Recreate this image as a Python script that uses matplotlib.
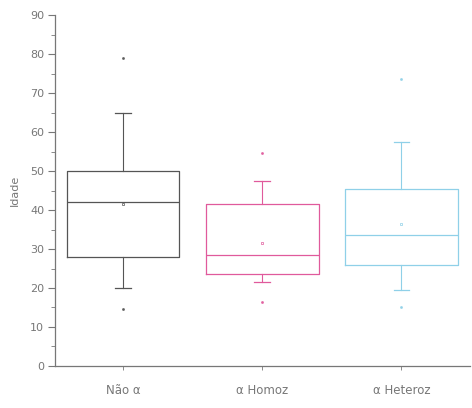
import matplotlib
matplotlib.use("Agg")
from matplotlib import pyplot as plt

# Dados (Idade por grupo)
grupos = ["Não α", "α Homoz", "α Heteroz"]
q1 = [28, 23.5, 26]
mediana = [42, 28.5, 33.5]
q3 = [50, 41.5, 45.5]
whislo = [20, 21.5, 19.5]
whishi = [65, 47.5, 57.5]
media = [41.5, 31.5, 36.5]
outliers = [[79, 14.5], [54.5, 16.5], [73.5, 15]]
cores = ["#555555", "#e05a9c", "#8fd0e8"]

stats = []
for i, g in enumerate(grupos):
    stats.append({
        "label": g,
        "q1": q1[i], "med": mediana[i], "q3": q3[i],
        "whislo": whislo[i], "whishi": whishi[i],
        "mean": media[i], "fliers": outliers[i],
    })

fig = plt.figure(figsize=(4.72, 4.08), dpi=100)
ax = fig.add_axes([0.117, 0.103, 0.878, 0.86])

for i, s in enumerate(stats):
    c = cores[i]
    ax.bxp([s], positions=[i + 1], widths=0.81, showmeans=True, showfliers=True,
           boxprops=dict(color=c, linewidth=0.9),
           medianprops=dict(color=c, linewidth=0.9),
           whiskerprops=dict(color=c, linewidth=0.8),
           capprops=dict(color=c, linewidth=0.9),
           capwidths=0.11,
           meanprops=dict(marker="s", markersize=2.0, markerfacecolor="none",
                          markeredgecolor=c, markeredgewidth=0.5),
           flierprops=dict(marker=".", markersize=2.2, markerfacecolor=c,
                           markeredgecolor=c, alpha=0.8))

ax.set_xlim(0.514, 3.49)
ax.set_ylim(0, 90)
ax.set_yticks(range(0, 91, 10))
ax.set_yticks(range(5, 90, 5), minor=True)
ax.set_xticks([1, 2, 3])
ax.set_xticklabels(grupos)

for sp in ["top", "right"]:
    ax.spines[sp].set_visible(False)
for sp in ["left", "bottom"]:
    ax.spines[sp].set_color("#777777")
    ax.spines[sp].set_linewidth(0.9)

ax.tick_params(axis="y", which="major", length=5, width=0.8, color="#777777",
               labelsize=8, labelcolor="#777777", pad=3)
ax.tick_params(axis="y", which="minor", length=3, width=0.6, color="#777777")
ax.tick_params(axis="x", length=3, width=0.6, color="#777777",
               labelsize=8.5, labelcolor="#777777", pad=10)

ax.set_ylabel("Idade", fontsize=8, color="#777777", labelpad=7)

plt.savefig("out.png", dpi=100)
